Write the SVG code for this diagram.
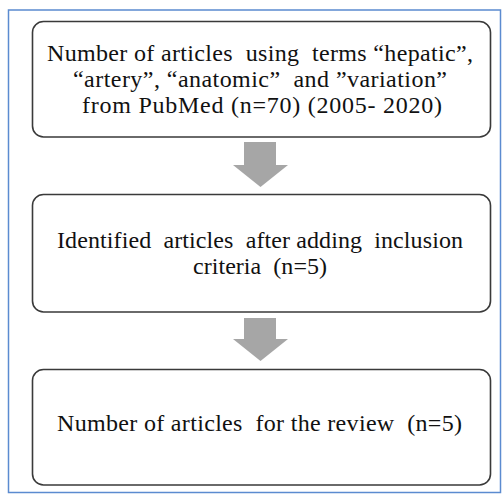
<svg xmlns="http://www.w3.org/2000/svg" width="502" height="500" viewBox="0 0 502 500">
<style>
.frame{fill:none;stroke:#5b8bd0;stroke-width:1.5}
.box{fill:#fff;stroke:#3a3a3a;stroke-width:1.6}
.arrow{fill:#a6a6a6}
text{font-family:"Liberation Serif","Times New Roman",serif;font-size:24px;fill:#111;text-anchor:start;white-space:pre}
</style>
<rect width="502" height="500" fill="#fff"/>
<rect class="frame" x="8.5" y="10" width="492" height="482.5"/>
<g id="connectors">
<polygon class="arrow" points="244,142 276,142 276,165 288,165 260.5,187 233,165 244,165"/>
<polygon class="arrow" points="244,318 276,318 276,339 288,339 260.5,361 233,339 244,339"/>
</g>
<g id="node1">
<rect class="box" x="32.5" y="21.5" width="458" height="115.5" rx="11"/>
<text x="47" y="61" textLength="426" lengthAdjust="spacing">Number of articles  using  terms “hepatic”,</text>
<text x="73" y="87" textLength="374" lengthAdjust="spacing">“artery”, “anatomic”  and ”variation”</text>
<text x="82" y="113" textLength="360" lengthAdjust="spacing">from PubMed (n=70) (2005- 2020)</text>
</g>
<g id="node2">
<rect class="box" x="32.5" y="194.5" width="458" height="117.5" rx="11"/>
<text x="57" y="248" textLength="406" lengthAdjust="spacing">Identified  articles  after adding  inclusion</text>
<text x="193" y="274" textLength="134" lengthAdjust="spacing">criteria  (n=5)</text>
</g>
<g id="node3">
<rect class="box" x="32.5" y="369.5" width="458" height="115.5" rx="11"/>
<text x="57" y="431" textLength="405" lengthAdjust="spacing">Number of articles  for the review  (n=5)</text>
</g>
</svg>
